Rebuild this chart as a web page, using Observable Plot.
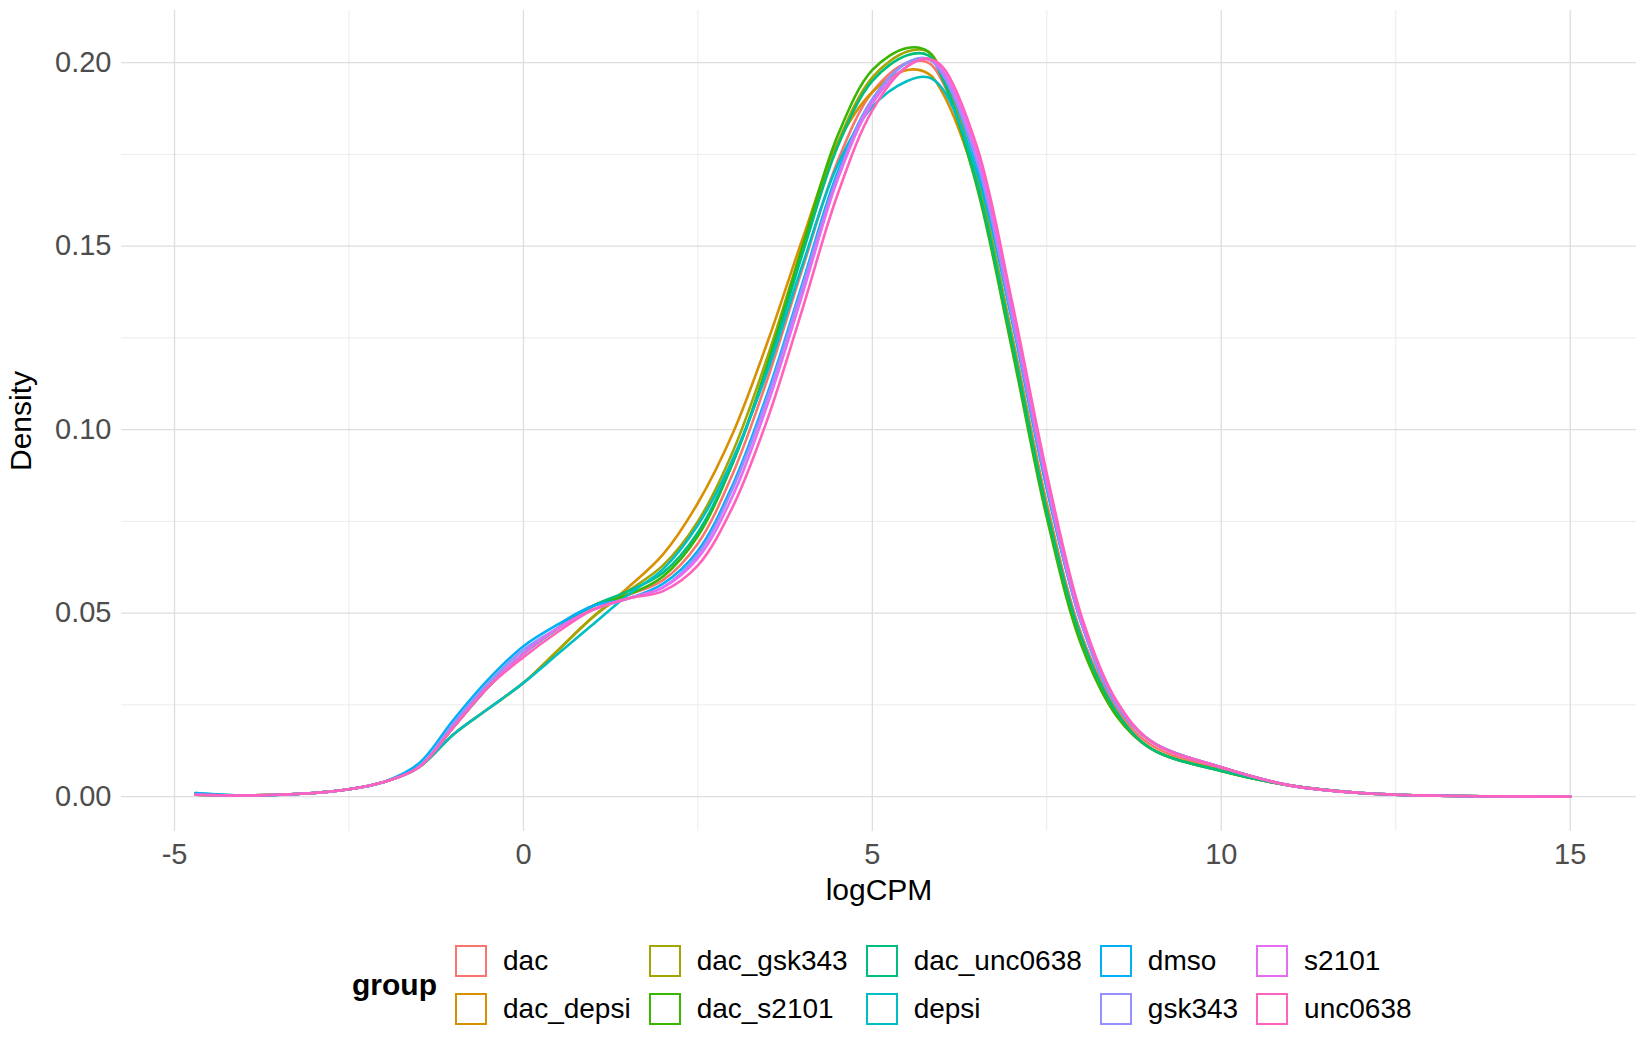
<!DOCTYPE html>
<html><head><meta charset="utf-8">
<script src="https://cdn.jsdelivr.net/npm/d3@7"></script>
<script src="https://cdn.jsdelivr.net/npm/@observablehq/plot@0.6"></script>
<style>
body{margin:0;background:#fff;font-family:"Liberation Sans",Arial,sans-serif;}
#legend{position:absolute;left:352px;top:937px;display:flex;align-items:center;font-size:28px;color:#000}
#legend .title{font-weight:bold;font-size:30px;margin-right:14px}
#legend .cols{display:grid;grid-template-rows:48px 48px;grid-auto-flow:column;column-gap:14px}
#legend .it{display:flex;align-items:center}
#legend .sw{width:32px;height:32px;box-sizing:border-box;border:2px solid;margin-right:16px;margin-left:4px}
</style></head><body>
<div id="chart"></div>
<div id="legend"></div>
<script>
const groups = ["dac","dac_depsi","dac_gsk343","dac_s2101","dac_unc0638","depsi","dmso","gsk343","s2101","unc0638"];
const colors = ["#F8766D","#D89000","#A3A500","#39B600","#00BF7D","#00BFC4","#00B0F6","#9590FF","#E76BF3","#FF62BC"];
const xs = [-4.7,-4,-3,-2.5,-2,-1.5,-1,-0.5,0,0.5,1,1.5,2,2.5,3,3.5,4,4.5,5,5.5,5.8,6,6.5,7,7.5,8,8.5,9,10,11,12,13,15];
const dens = {
 dac:        [0.0005,0.0003,0.001,0.002,0.004,0.008,0.019,0.030,0.039,0.046,0.052,0.055,0.059,0.069,0.088,0.114,0.144,0.173,0.192,0.200,0.200,0.195,0.168,0.126,0.080,0.044,0.024,0.014,0.0075,0.003,0.001,0.0003,0],
 dac_depsi:  [0.0005,0.0003,0.001,0.002,0.004,0.008,0.017,0.024,0.031,0.040,0.049,0.057,0.066,0.080,0.099,0.124,0.152,0.178,0.192,0.198,0.197,0.192,0.167,0.125,0.079,0.043,0.023,0.013,0.007,0.003,0.001,0.0003,0],
 dac_gsk343: [0.0005,0.0003,0.001,0.002,0.004,0.008,0.017,0.024,0.031,0.040,0.049,0.056,0.063,0.075,0.094,0.120,0.150,0.178,0.196,0.203,0.203,0.197,0.169,0.125,0.078,0.042,0.022,0.013,0.007,0.003,0.001,0.0003,0],
 dac_s2101:  [0.0005,0.0003,0.001,0.002,0.004,0.008,0.019,0.030,0.039,0.046,0.052,0.055,0.060,0.071,0.091,0.118,0.150,0.180,0.198,0.204,0.203,0.196,0.166,0.122,0.076,0.041,0.022,0.013,0.007,0.003,0.001,0.0003,0],
 dac_unc0638:[0.0005,0.0003,0.001,0.002,0.004,0.008,0.019,0.030,0.039,0.046,0.052,0.056,0.061,0.072,0.091,0.117,0.148,0.177,0.195,0.202,0.202,0.196,0.167,0.124,0.078,0.043,0.023,0.013,0.007,0.003,0.001,0.0003,0],
 depsi:      [0.001,0.0003,0.001,0.002,0.004,0.008,0.017,0.024,0.031,0.039,0.047,0.055,0.062,0.074,0.092,0.116,0.145,0.172,0.188,0.195,0.196,0.193,0.170,0.130,0.084,0.047,0.025,0.015,0.008,0.003,0.001,0.0003,0],
 dmso:       [0.001,0.0003,0.001,0.002,0.004,0.009,0.021,0.032,0.041,0.047,0.052,0.054,0.058,0.067,0.085,0.110,0.140,0.170,0.190,0.200,0.201,0.197,0.172,0.130,0.084,0.047,0.025,0.015,0.008,0.003,0.001,0.0003,0],
 gsk343:     [0.0005,0.0003,0.001,0.002,0.004,0.008,0.020,0.031,0.040,0.046,0.051,0.054,0.057,0.066,0.084,0.109,0.139,0.169,0.190,0.200,0.201,0.197,0.173,0.131,0.085,0.047,0.025,0.015,0.008,0.003,0.001,0.0003,0],
 s2101:      [0.0005,0.0003,0.001,0.002,0.004,0.008,0.019,0.030,0.039,0.046,0.051,0.054,0.057,0.065,0.082,0.107,0.137,0.168,0.189,0.199,0.201,0.198,0.175,0.133,0.086,0.048,0.026,0.015,0.008,0.003,0.001,0.0003,0],
 unc0638:    [0.0005,0.0003,0.001,0.002,0.004,0.008,0.019,0.030,0.038,0.045,0.051,0.054,0.056,0.063,0.079,0.103,0.133,0.164,0.187,0.199,0.201,0.199,0.177,0.135,0.088,0.049,0.026,0.015,0.008,0.003,0.001,0.0003,0]
};
const xTicks = [-5,0,5,10,15];
const yTicks = [0,0.05,0.10,0.15,0.20];
const xMinor = [-2.5,2.5,7.5,12.5];
const yMinor = [0.025,0.075,0.125,0.175];

const rows = groups.flatMap(g => xs.map((x,i)=>({group:g,x,y:dens[g][i]})));

const chart = Plot.plot({
  width:1650, height:930,
  marginLeft:121, marginRight:14, marginTop:10, marginBottom:99,
  x:{domain:[-5.76,15.95], ticks:xTicks, tickSize:0, tickPadding:12, tickFormat:d=>String(d), label:"logCPM", labelAnchor:"center", labelArrow:"none", labelOffset:68},
  y:{domain:[-0.0095,0.2142], ticks:yTicks, tickSize:0, tickPadding:10, tickFormat:d3.format(".2f"), label:"Density", labelAnchor:"center", labelArrow:"none", labelOffset:112},
  color:{domain:groups, range:colors},
  style:{fontSize:"29px", fontFamily:"Liberation Sans, Arial, sans-serif", color:"#4d4d4d"},
  marks:[
    Plot.ruleX(xMinor,{stroke:"#ebebeb",strokeWidth:1}),
    Plot.ruleY(yMinor,{stroke:"#ebebeb",strokeWidth:1}),
    Plot.ruleX(xTicks,{stroke:"#dedede",strokeWidth:1.3}),
    Plot.ruleY(yTicks,{stroke:"#dedede",strokeWidth:1.3}),
    Plot.line(rows,{x:"x",y:"y",z:"group",stroke:"group",strokeWidth:2.6,curve:"catmull-rom"})
  ]
});
chart.querySelectorAll("g[aria-label='x-axis label'] text, g[aria-label='y-axis label'] text").forEach(t=>{t.style.fill="#000";t.style.fontSize="30px";});
document.getElementById("chart").appendChild(chart);

const lg=document.getElementById("legend");
lg.innerHTML='<span class="title">group</span><div class="cols">'+groups.map((g,i)=>`<div class="it"><span class="sw" style="border-color:${colors[i]}"></span>${g}</div>`).join("")+'</div>';
</script></body></html>
